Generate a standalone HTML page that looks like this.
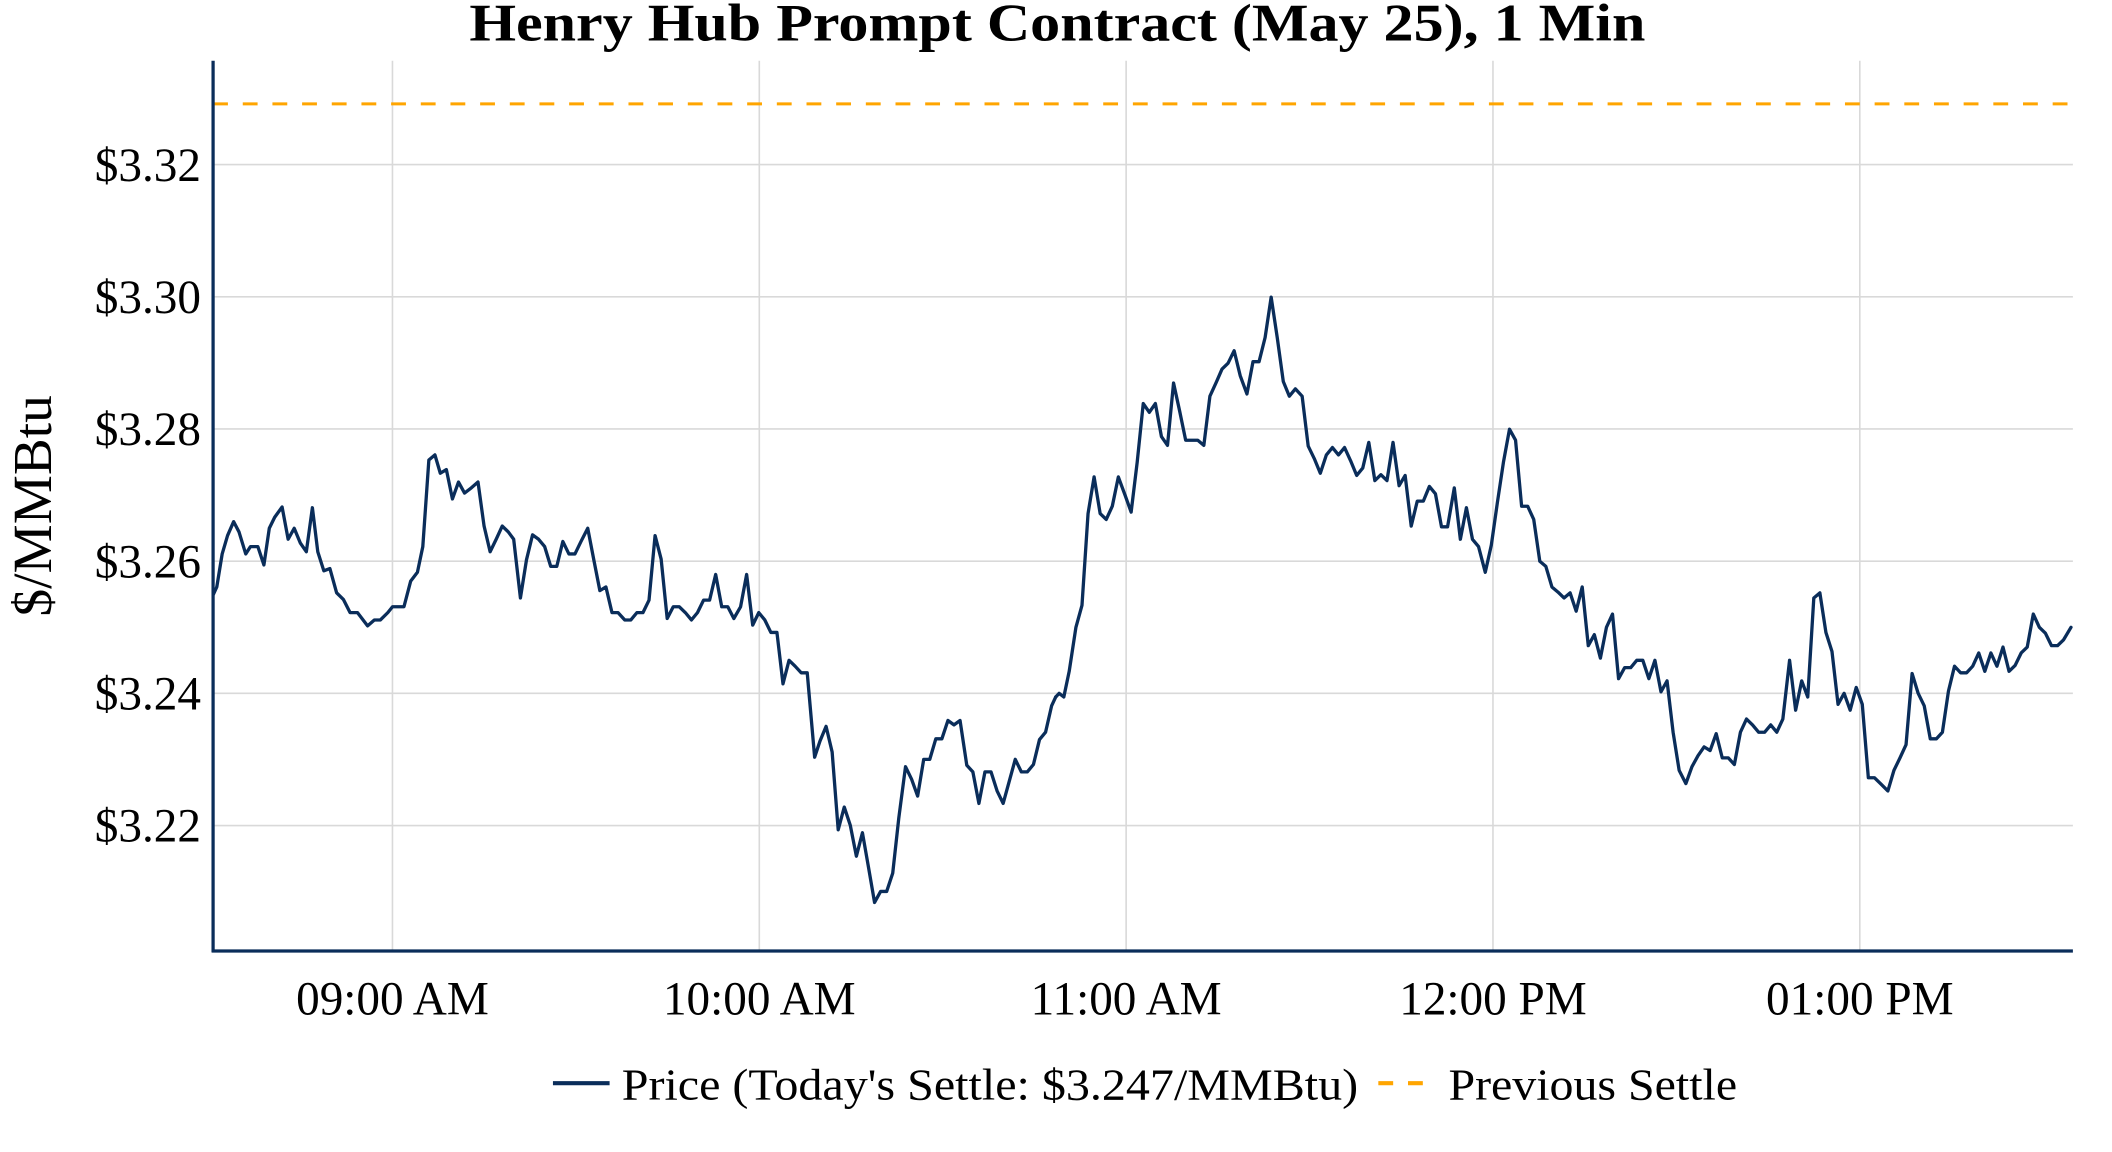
<!DOCTYPE html>
<html><head><meta charset="utf-8"><style>
html,body{margin:0;padding:0;background:#fff;}
svg{display:block;}
text{font-family:"Liberation Serif",serif;fill:#000;}
</style></head><body>
<svg width="2112" height="1152" viewBox="0 0 1566 854" preserveAspectRatio="none" xmlns="http://www.w3.org/2000/svg">
<rect width="1566" height="854" fill="#fff"/>
<text x="784" y="30" text-anchor="middle" font-size="39" font-weight="bold" textLength="872" lengthAdjust="spacingAndGlyphs">Henry Hub Prompt Contract (May 25), 1 Min</text>
<g stroke="#d9d9d9" stroke-width="1.2">
<line x1="158" x2="1537" y1="122" y2="122"/>
<line x1="158" x2="1537" y1="220" y2="220"/>
<line x1="158" x2="1537" y1="318" y2="318"/>
<line x1="158" x2="1537" y1="416" y2="416"/>
<line x1="158" x2="1537" y1="514" y2="514"/>
<line x1="158" x2="1537" y1="612" y2="612"/>
<line x1="291" x2="291" y1="45" y2="705"/>
<line x1="563" x2="563" y1="45" y2="705"/>
<line x1="835" x2="835" y1="45" y2="705"/>
<line x1="1107" x2="1107" y1="45" y2="705"/>
<line x1="1379" x2="1379" y1="45" y2="705"/>
</g>
<line x1="158" x2="1537" y1="77" y2="77" stroke="#ffa500" stroke-width="2.2" stroke-dasharray="11,11"/>
<g fill="none" stroke="#0a2d5a" stroke-width="3.3" stroke-linejoin="round" stroke-linecap="round">
<polyline vector-effect="non-scaling-stroke" transform="matrix(0.4992,0,0,0.5439,0,0)" points="317,810 322,800 330,755 338,730 347,711 355,725 365,755 372,745 383,745 392,770 400,720 408,705 419,691 428,735 437,720 446,740 455,752 464,692 472,752 481,778 490,775 500,808 510,817 520,835 531,835 546,853 556,845 565,845 576,835 583,827 600,827 610,792 620,780 628,745 637,627 646,620 654,645 663,640 672,680 681,657 690,672 700,665 710,657 719,717 728,752 737,735 746,717 755,725 763,735 773,815 782,763 791,729 800,735 809,745 818,772 827,772 836,738 845,755 854,755 863,738 873,720 882,763 891,805 900,800 909,835 918,835 928,845 937,845 946,835 955,835 964,818 973,730 982,762 991,843 1000,827 1009,827 1018,835 1027,845 1036,835 1045,818 1054,818 1063,783 1072,827 1081,827 1090,843 1100,827 1109,783 1118,852 1127,835 1136,845 1145,862 1154,862 1163,932 1172,900 1181,908 1190,917 1199,917 1210,1032 1218,1010 1227,990 1236,1025 1245,1131 1254,1100 1263,1125 1272,1167 1281,1135 1290,1182 1299,1230 1308,1215 1317,1215 1326,1190 1335,1115 1345,1045 1354,1062 1363,1085 1372,1035 1381,1035 1390,1007 1399,1007 1408,982 1417,988 1426,982 1436,1043 1445,1052 1454,1095 1463,1052 1472,1052 1481,1078 1490,1095 1499,1065 1508,1035 1517,1052 1526,1052 1535,1042 1544,1008 1553,998 1562,962 1568,950"/>
<polyline vector-effect="non-scaling-stroke" transform="matrix(0.4992,0,0,0.5439,782.8,0)" points="0,950 5,945 12,950 20,915 30,855 39,825 48,700 57,650 66,700 75,708 84,690 93,650 103,675 112,698 121,630 130,550 139,562 148,550 157,595 166,607 175,522 184,560 193,600 202,600 211,600 220,607 229,540 238,522 247,503 256,495 265,478 274,512 284,537 293,493 302,493 311,460 320,405 329,460 338,520 347,540 356,530 366,540 375,608 384,625 393,645 402,620 411,610 420,620 429,610 438,628 447,648 456,638 465,603 474,655 483,647 492,655 501,603 510,662 519,648 528,717 537,683 546,683 555,663 564,673 573,718 582,718 592,665 601,735 610,692 619,735 628,745 638,780 647,743 656,685 665,630 674,585 683,600 692,690 701,690 710,708 719,765 728,772 737,800 746,807 755,815 764,808 773,833 782,800 791,880 800,865 809,897 818,855 827,837 836,925 845,910 854,910 863,900 872,900 881,925 890,900 899,943 908,928 917,998 926,1050 936,1068 945,1045 954,1030 963,1018 972,1023 981,1000 990,1033 999,1033 1008,1042 1017,998 1026,980 1035,988 1044,998 1053,998 1062,988 1071,998 1080,980 1090,900 1099,968 1108,928 1117,950 1126,815 1135,808 1144,862 1153,888 1162,960 1171,945 1180,968 1189,937 1198,960 1207,1060 1216,1060 1225,1068 1236,1078 1245,1050 1254,1033 1263,1015 1272,918 1281,945 1290,962 1299,1007 1308,1007 1317,998 1326,942 1335,908 1344,917 1353,917 1362,908 1371,890 1380,915 1389,890 1398,908 1407,882 1416,915 1425,907 1434,890 1443,882 1452,837 1461,855 1470,863 1479,880 1488,880 1497,872 1508,855"/>
</g>
<line x1="158" x2="158" y1="45" y2="706" stroke="#0a2d5a" stroke-width="2.4"/>
<line x1="157" x2="1537" y1="705" y2="705" stroke="#0a2d5a" stroke-width="2.4"/>
<g font-size="35" text-anchor="end">
<text x="149" y="134">$3.32</text>
<text x="149" y="232">$3.30</text>
<text x="149" y="330">$3.28</text>
<text x="149" y="428">$3.26</text>
<text x="149" y="526">$3.24</text>
<text x="149" y="624">$3.22</text>
</g>
<g font-size="35" text-anchor="middle">
<text x="291" y="752">09:00 AM</text>
<text x="563" y="752">10:00 AM</text>
<text x="835" y="752">11:00 AM</text>
<text x="1107" y="752">12:00 PM</text>
<text x="1379" y="752">01:00 PM</text>
</g>
<text transform="translate(38,375) rotate(-90)" font-size="41" text-anchor="middle">$/MMBtu</text>
<line x1="410" x2="452" y1="803" y2="803" stroke="#0a2d5a" stroke-width="3"/>
<text x="461" y="815" font-size="33" textLength="546" lengthAdjust="spacingAndGlyphs">Price (Today's Settle: $3.247/MMBtu)</text>
<line x1="1022" x2="1062" y1="803" y2="803" stroke="#ffa500" stroke-width="3" stroke-dasharray="11,11"/>
<text x="1074" y="815" font-size="33" textLength="214" lengthAdjust="spacingAndGlyphs">Previous Settle</text>
</svg>
</body></html>
